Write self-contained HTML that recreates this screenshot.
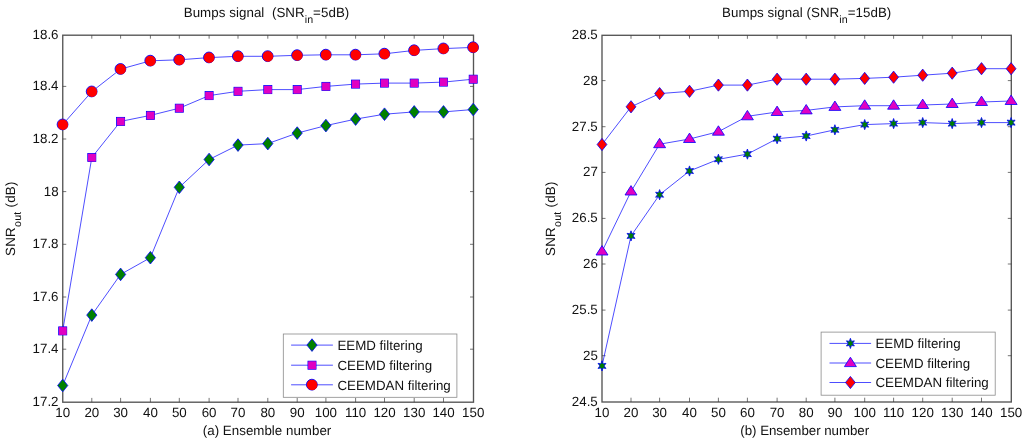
<!DOCTYPE html>
<html><head><meta charset="utf-8"><title>Bumps signal SNR</title>
<style>
html,body{margin:0;padding:0;background:#fff;}
body{width:1024px;height:443px;overflow:hidden;font-family:"Liberation Sans",sans-serif;}
svg{display:block;font-family:"Liberation Sans",sans-serif;fill:#111;filter:blur(0.35px);text-rendering:geometricPrecision;}
</style></head><body>
<svg width="1024" height="443" viewBox="0 0 1024 443">
<rect x="0" y="0" width="1024" height="443" fill="#fff"/>
<rect x="62.75" y="35.20" width="410.75" height="367.00" fill="#fff" stroke="#555" stroke-width="1.35"/>
<text x="58.55" y="406.40" text-anchor="end" font-size="13.33" >17.2</text>
<text x="58.55" y="353.10" text-anchor="end" font-size="13.33" >17.4</text>
<text x="58.55" y="300.90" text-anchor="end" font-size="13.33" >17.6</text>
<text x="58.55" y="248.20" text-anchor="end" font-size="13.33" >17.8</text>
<text x="58.55" y="195.50" text-anchor="end" font-size="13.33" >18</text>
<text x="58.55" y="142.90" text-anchor="end" font-size="13.33" >18.2</text>
<text x="58.55" y="90.30" text-anchor="end" font-size="13.33" >18.4</text>
<text x="58.55" y="39.00" text-anchor="end" font-size="13.33" >18.6</text>
<path d="M91.80 402.20v-4.30M91.80 35.20v3.50M120.60 402.20v-4.30M120.60 35.20v3.50M150.40 402.20v-4.30M150.40 35.20v3.50M179.30 402.20v-4.30M179.30 35.20v3.50M209.10 402.20v-4.30M209.10 35.20v3.50M238.00 402.20v-4.30M238.00 35.20v3.50M267.80 402.20v-4.30M267.80 35.20v3.50M297.20 402.20v-4.30M297.20 35.20v3.50M325.90 402.20v-4.30M325.90 35.20v3.50M355.60 402.20v-4.30M355.60 35.20v3.50M384.50 402.20v-4.30M384.50 35.20v3.50M414.20 402.20v-4.30M414.20 35.20v3.50M443.50 402.20v-4.30M443.50 35.20v3.50M62.75 349.20h3.50M473.50 349.20h-3.50M62.75 297.00h3.50M473.50 297.00h-3.50M62.75 244.30h3.50M473.50 244.30h-3.50M62.75 191.60h3.50M473.50 191.60h-3.50M62.75 139.00h3.50M473.50 139.00h-3.50M62.75 86.40h3.50M473.50 86.40h-3.50" stroke="#3a3a3a" stroke-width="0.7" fill="none"/>
<text x="62.70" y="417.10" text-anchor="middle" font-size="13.33" >10</text>
<text x="91.80" y="417.10" text-anchor="middle" font-size="13.33" >20</text>
<text x="120.60" y="417.10" text-anchor="middle" font-size="13.33" >30</text>
<text x="150.40" y="417.10" text-anchor="middle" font-size="13.33" >40</text>
<text x="179.30" y="417.10" text-anchor="middle" font-size="13.33" >50</text>
<text x="209.10" y="417.10" text-anchor="middle" font-size="13.33" >60</text>
<text x="238.00" y="417.10" text-anchor="middle" font-size="13.33" >70</text>
<text x="267.80" y="417.10" text-anchor="middle" font-size="13.33" >80</text>
<text x="297.20" y="417.10" text-anchor="middle" font-size="13.33" >90</text>
<text x="325.90" y="417.10" text-anchor="middle" font-size="13.33" >100</text>
<text x="355.60" y="417.10" text-anchor="middle" font-size="13.33" >110</text>
<text x="384.50" y="417.10" text-anchor="middle" font-size="13.33" >120</text>
<text x="414.20" y="417.10" text-anchor="middle" font-size="13.33" >130</text>
<text x="443.50" y="417.10" text-anchor="middle" font-size="13.33" >140</text>
<text x="473.20" y="417.10" text-anchor="middle" font-size="13.33" >150</text>
<rect x="602.00" y="35.30" width="409.30" height="366.70" fill="#fff" stroke="#555" stroke-width="1.35"/>
<text x="597.80" y="406.20" text-anchor="end" font-size="13.33" >24.5</text>
<text x="597.80" y="359.60" text-anchor="end" font-size="13.33" >25</text>
<text x="597.80" y="314.00" text-anchor="end" font-size="13.33" >25.5</text>
<text x="597.80" y="267.90" text-anchor="end" font-size="13.33" >26</text>
<text x="597.80" y="222.30" text-anchor="end" font-size="13.33" >26.5</text>
<text x="597.80" y="176.30" text-anchor="end" font-size="13.33" >27</text>
<text x="597.80" y="130.60" text-anchor="end" font-size="13.33" >27.5</text>
<text x="597.80" y="84.50" text-anchor="end" font-size="13.33" >28</text>
<text x="597.80" y="39.10" text-anchor="end" font-size="13.33" >28.5</text>
<path d="M631.00 402.00v-4.30M631.00 35.30v3.50M659.60 402.00v-4.30M659.60 35.30v3.50M689.50 402.00v-4.30M689.50 35.30v3.50M718.40 402.00v-4.30M718.40 35.30v3.50M747.40 402.00v-4.30M747.40 35.30v3.50M777.10 402.00v-4.30M777.10 35.30v3.50M806.20 402.00v-4.30M806.20 35.30v3.50M834.90 402.00v-4.30M834.90 35.30v3.50M864.70 402.00v-4.30M864.70 35.30v3.50M893.60 402.00v-4.30M893.60 35.30v3.50M922.70 402.00v-4.30M922.70 35.30v3.50M952.20 402.00v-4.30M952.20 35.30v3.50M981.50 402.00v-4.30M981.50 35.30v3.50M602.00 355.70h3.50M1011.30 355.70h-3.50M602.00 310.10h3.50M1011.30 310.10h-3.50M602.00 264.00h3.50M1011.30 264.00h-3.50M602.00 218.40h3.50M1011.30 218.40h-3.50M602.00 172.40h3.50M1011.30 172.40h-3.50M602.00 126.70h3.50M1011.30 126.70h-3.50M602.00 80.60h3.50M1011.30 80.60h-3.50" stroke="#3a3a3a" stroke-width="0.7" fill="none"/>
<text x="602.00" y="417.10" text-anchor="middle" font-size="13.33" >10</text>
<text x="631.00" y="417.10" text-anchor="middle" font-size="13.33" >20</text>
<text x="659.60" y="417.10" text-anchor="middle" font-size="13.33" >30</text>
<text x="689.50" y="417.10" text-anchor="middle" font-size="13.33" >40</text>
<text x="718.40" y="417.10" text-anchor="middle" font-size="13.33" >50</text>
<text x="747.40" y="417.10" text-anchor="middle" font-size="13.33" >60</text>
<text x="777.10" y="417.10" text-anchor="middle" font-size="13.33" >70</text>
<text x="806.20" y="417.10" text-anchor="middle" font-size="13.33" >80</text>
<text x="834.90" y="417.10" text-anchor="middle" font-size="13.33" >90</text>
<text x="864.70" y="417.10" text-anchor="middle" font-size="13.33" >100</text>
<text x="893.60" y="417.10" text-anchor="middle" font-size="13.33" >110</text>
<text x="922.70" y="417.10" text-anchor="middle" font-size="13.33" >120</text>
<text x="952.20" y="417.10" text-anchor="middle" font-size="13.33" >130</text>
<text x="981.50" y="417.10" text-anchor="middle" font-size="13.33" >140</text>
<text x="1011.10" y="417.10" text-anchor="middle" font-size="13.33" >150</text>
<polyline fill="none" stroke="#0000ff" stroke-width="0.7" points="62.70,385.50 91.80,315.10 120.60,274.40 150.40,257.70 179.30,187.30 209.10,159.50 238.00,145.10 267.80,143.60 297.20,133.10 325.90,125.60 355.60,119.10 384.50,114.20 414.20,111.90 443.50,111.90 473.20,109.50"/>
<polygon points="62.70,379.20 67.80,385.50 62.70,391.80 57.60,385.50" fill="#008000" stroke="#0000ff" stroke-width="0.8"/>
<polygon points="91.80,308.80 96.90,315.10 91.80,321.40 86.70,315.10" fill="#008000" stroke="#0000ff" stroke-width="0.8"/>
<polygon points="120.60,268.10 125.70,274.40 120.60,280.70 115.50,274.40" fill="#008000" stroke="#0000ff" stroke-width="0.8"/>
<polygon points="150.40,251.40 155.50,257.70 150.40,264.00 145.30,257.70" fill="#008000" stroke="#0000ff" stroke-width="0.8"/>
<polygon points="179.30,181.00 184.40,187.30 179.30,193.60 174.20,187.30" fill="#008000" stroke="#0000ff" stroke-width="0.8"/>
<polygon points="209.10,153.20 214.20,159.50 209.10,165.80 204.00,159.50" fill="#008000" stroke="#0000ff" stroke-width="0.8"/>
<polygon points="238.00,138.80 243.10,145.10 238.00,151.40 232.90,145.10" fill="#008000" stroke="#0000ff" stroke-width="0.8"/>
<polygon points="267.80,137.30 272.90,143.60 267.80,149.90 262.70,143.60" fill="#008000" stroke="#0000ff" stroke-width="0.8"/>
<polygon points="297.20,126.80 302.30,133.10 297.20,139.40 292.10,133.10" fill="#008000" stroke="#0000ff" stroke-width="0.8"/>
<polygon points="325.90,119.30 331.00,125.60 325.90,131.90 320.80,125.60" fill="#008000" stroke="#0000ff" stroke-width="0.8"/>
<polygon points="355.60,112.80 360.70,119.10 355.60,125.40 350.50,119.10" fill="#008000" stroke="#0000ff" stroke-width="0.8"/>
<polygon points="384.50,107.90 389.60,114.20 384.50,120.50 379.40,114.20" fill="#008000" stroke="#0000ff" stroke-width="0.8"/>
<polygon points="414.20,105.60 419.30,111.90 414.20,118.20 409.10,111.90" fill="#008000" stroke="#0000ff" stroke-width="0.8"/>
<polygon points="443.50,105.60 448.60,111.90 443.50,118.20 438.40,111.90" fill="#008000" stroke="#0000ff" stroke-width="0.8"/>
<polygon points="473.20,103.20 478.30,109.50 473.20,115.80 468.10,109.50" fill="#008000" stroke="#0000ff" stroke-width="0.8"/>
<polyline fill="none" stroke="#0000ff" stroke-width="0.7" points="62.70,330.90 91.80,157.50 120.60,121.40 150.40,115.40 179.30,108.20 209.10,95.60 238.00,91.30 267.80,89.60 297.20,89.60 325.90,86.40 355.60,84.10 384.50,83.10 414.20,83.10 443.50,82.10 473.20,79.20"/>
<rect x="58.65" y="326.85" width="8.10" height="8.10" fill="#e000c2" stroke="#0000ff" stroke-width="0.8"/><rect x="59.10" y="327.30" width="7.50" height="7.50" fill="#e000c2"/>
<rect x="87.75" y="153.45" width="8.10" height="8.10" fill="#e000c2" stroke="#0000ff" stroke-width="0.8"/><rect x="88.20" y="153.90" width="7.50" height="7.50" fill="#e000c2"/>
<rect x="116.55" y="117.35" width="8.10" height="8.10" fill="#e000c2" stroke="#0000ff" stroke-width="0.8"/><rect x="117.00" y="117.80" width="7.50" height="7.50" fill="#e000c2"/>
<rect x="146.35" y="111.35" width="8.10" height="8.10" fill="#e000c2" stroke="#0000ff" stroke-width="0.8"/><rect x="146.80" y="111.80" width="7.50" height="7.50" fill="#e000c2"/>
<rect x="175.25" y="104.15" width="8.10" height="8.10" fill="#e000c2" stroke="#0000ff" stroke-width="0.8"/><rect x="175.70" y="104.60" width="7.50" height="7.50" fill="#e000c2"/>
<rect x="205.05" y="91.55" width="8.10" height="8.10" fill="#e000c2" stroke="#0000ff" stroke-width="0.8"/><rect x="205.50" y="92.00" width="7.50" height="7.50" fill="#e000c2"/>
<rect x="233.95" y="87.25" width="8.10" height="8.10" fill="#e000c2" stroke="#0000ff" stroke-width="0.8"/><rect x="234.40" y="87.70" width="7.50" height="7.50" fill="#e000c2"/>
<rect x="263.75" y="85.55" width="8.10" height="8.10" fill="#e000c2" stroke="#0000ff" stroke-width="0.8"/><rect x="264.20" y="86.00" width="7.50" height="7.50" fill="#e000c2"/>
<rect x="293.15" y="85.55" width="8.10" height="8.10" fill="#e000c2" stroke="#0000ff" stroke-width="0.8"/><rect x="293.60" y="86.00" width="7.50" height="7.50" fill="#e000c2"/>
<rect x="321.85" y="82.35" width="8.10" height="8.10" fill="#e000c2" stroke="#0000ff" stroke-width="0.8"/><rect x="322.30" y="82.80" width="7.50" height="7.50" fill="#e000c2"/>
<rect x="351.55" y="80.05" width="8.10" height="8.10" fill="#e000c2" stroke="#0000ff" stroke-width="0.8"/><rect x="352.00" y="80.50" width="7.50" height="7.50" fill="#e000c2"/>
<rect x="380.45" y="79.05" width="8.10" height="8.10" fill="#e000c2" stroke="#0000ff" stroke-width="0.8"/><rect x="380.90" y="79.50" width="7.50" height="7.50" fill="#e000c2"/>
<rect x="410.15" y="79.05" width="8.10" height="8.10" fill="#e000c2" stroke="#0000ff" stroke-width="0.8"/><rect x="410.60" y="79.50" width="7.50" height="7.50" fill="#e000c2"/>
<rect x="439.45" y="78.05" width="8.10" height="8.10" fill="#e000c2" stroke="#0000ff" stroke-width="0.8"/><rect x="439.90" y="78.50" width="7.50" height="7.50" fill="#e000c2"/>
<rect x="469.15" y="75.15" width="8.10" height="8.10" fill="#e000c2" stroke="#0000ff" stroke-width="0.8"/><rect x="469.60" y="75.60" width="7.50" height="7.50" fill="#e000c2"/>
<polyline fill="none" stroke="#0000ff" stroke-width="0.7" points="62.70,124.60 91.80,91.60 120.60,69.10 150.40,60.80 179.30,59.80 209.10,57.60 238.00,56.30 267.80,56.30 297.20,55.30 325.90,54.80 355.60,54.80 384.50,53.80 414.20,50.40 443.50,48.60 473.20,47.40"/>
<circle cx="62.55" cy="124.45" r="5.40" fill="#ff0000" stroke="#0000ff" stroke-width="0.9"/><circle cx="62.95" cy="124.85" r="5.10" fill="#ff0000"/>
<circle cx="91.65" cy="91.45" r="5.40" fill="#ff0000" stroke="#0000ff" stroke-width="0.9"/><circle cx="92.05" cy="91.85" r="5.10" fill="#ff0000"/>
<circle cx="120.45" cy="68.95" r="5.40" fill="#ff0000" stroke="#0000ff" stroke-width="0.9"/><circle cx="120.85" cy="69.35" r="5.10" fill="#ff0000"/>
<circle cx="150.25" cy="60.65" r="5.40" fill="#ff0000" stroke="#0000ff" stroke-width="0.9"/><circle cx="150.65" cy="61.05" r="5.10" fill="#ff0000"/>
<circle cx="179.15" cy="59.65" r="5.40" fill="#ff0000" stroke="#0000ff" stroke-width="0.9"/><circle cx="179.55" cy="60.05" r="5.10" fill="#ff0000"/>
<circle cx="208.95" cy="57.45" r="5.40" fill="#ff0000" stroke="#0000ff" stroke-width="0.9"/><circle cx="209.35" cy="57.85" r="5.10" fill="#ff0000"/>
<circle cx="237.85" cy="56.15" r="5.40" fill="#ff0000" stroke="#0000ff" stroke-width="0.9"/><circle cx="238.25" cy="56.55" r="5.10" fill="#ff0000"/>
<circle cx="267.65" cy="56.15" r="5.40" fill="#ff0000" stroke="#0000ff" stroke-width="0.9"/><circle cx="268.05" cy="56.55" r="5.10" fill="#ff0000"/>
<circle cx="297.05" cy="55.15" r="5.40" fill="#ff0000" stroke="#0000ff" stroke-width="0.9"/><circle cx="297.45" cy="55.55" r="5.10" fill="#ff0000"/>
<circle cx="325.75" cy="54.65" r="5.40" fill="#ff0000" stroke="#0000ff" stroke-width="0.9"/><circle cx="326.15" cy="55.05" r="5.10" fill="#ff0000"/>
<circle cx="355.45" cy="54.65" r="5.40" fill="#ff0000" stroke="#0000ff" stroke-width="0.9"/><circle cx="355.85" cy="55.05" r="5.10" fill="#ff0000"/>
<circle cx="384.35" cy="53.65" r="5.40" fill="#ff0000" stroke="#0000ff" stroke-width="0.9"/><circle cx="384.75" cy="54.05" r="5.10" fill="#ff0000"/>
<circle cx="414.05" cy="50.25" r="5.40" fill="#ff0000" stroke="#0000ff" stroke-width="0.9"/><circle cx="414.45" cy="50.65" r="5.10" fill="#ff0000"/>
<circle cx="443.35" cy="48.45" r="5.40" fill="#ff0000" stroke="#0000ff" stroke-width="0.9"/><circle cx="443.75" cy="48.85" r="5.10" fill="#ff0000"/>
<circle cx="473.05" cy="47.25" r="5.40" fill="#ff0000" stroke="#0000ff" stroke-width="0.9"/><circle cx="473.45" cy="47.65" r="5.10" fill="#ff0000"/>
<polyline fill="none" stroke="#0000ff" stroke-width="0.7" points="602.00,365.90 631.00,235.90 659.60,194.70 689.50,171.00 718.40,159.30 747.40,154.10 777.10,138.70 806.20,136.00 834.90,129.80 864.70,124.60 893.60,123.60 922.70,122.60 952.20,123.60 981.50,122.60 1011.10,122.60"/>
<polygon points="602.00,360.80 603.08,363.82 605.98,363.35 604.16,365.90 605.98,368.45 603.08,367.98 602.00,371.00 600.92,367.98 598.02,368.45 599.84,365.90 598.02,363.35 600.92,363.82" fill="#008000" stroke="#0000ff" stroke-width="0.8"/>
<polygon points="631.00,230.80 632.08,233.82 634.98,233.35 633.16,235.90 634.98,238.45 632.08,237.98 631.00,241.00 629.92,237.98 627.02,238.45 628.84,235.90 627.02,233.35 629.92,233.82" fill="#008000" stroke="#0000ff" stroke-width="0.8"/>
<polygon points="659.60,189.60 660.68,192.62 663.58,192.15 661.76,194.70 663.58,197.25 660.68,196.78 659.60,199.80 658.52,196.78 655.62,197.25 657.44,194.70 655.62,192.15 658.52,192.62" fill="#008000" stroke="#0000ff" stroke-width="0.8"/>
<polygon points="689.50,165.90 690.58,168.92 693.48,168.45 691.66,171.00 693.48,173.55 690.58,173.08 689.50,176.10 688.42,173.08 685.52,173.55 687.34,171.00 685.52,168.45 688.42,168.92" fill="#008000" stroke="#0000ff" stroke-width="0.8"/>
<polygon points="718.40,154.20 719.48,157.22 722.38,156.75 720.56,159.30 722.38,161.85 719.48,161.38 718.40,164.40 717.32,161.38 714.42,161.85 716.24,159.30 714.42,156.75 717.32,157.22" fill="#008000" stroke="#0000ff" stroke-width="0.8"/>
<polygon points="747.40,149.00 748.48,152.02 751.38,151.55 749.56,154.10 751.38,156.65 748.48,156.18 747.40,159.20 746.32,156.18 743.42,156.65 745.24,154.10 743.42,151.55 746.32,152.02" fill="#008000" stroke="#0000ff" stroke-width="0.8"/>
<polygon points="777.10,133.60 778.18,136.62 781.08,136.15 779.26,138.70 781.08,141.25 778.18,140.78 777.10,143.80 776.02,140.78 773.12,141.25 774.94,138.70 773.12,136.15 776.02,136.62" fill="#008000" stroke="#0000ff" stroke-width="0.8"/>
<polygon points="806.20,130.90 807.28,133.92 810.18,133.45 808.36,136.00 810.18,138.55 807.28,138.08 806.20,141.10 805.12,138.08 802.22,138.55 804.04,136.00 802.22,133.45 805.12,133.92" fill="#008000" stroke="#0000ff" stroke-width="0.8"/>
<polygon points="834.90,124.70 835.98,127.72 838.88,127.25 837.06,129.80 838.88,132.35 835.98,131.88 834.90,134.90 833.82,131.88 830.92,132.35 832.74,129.80 830.92,127.25 833.82,127.72" fill="#008000" stroke="#0000ff" stroke-width="0.8"/>
<polygon points="864.70,119.50 865.78,122.52 868.68,122.05 866.86,124.60 868.68,127.15 865.78,126.68 864.70,129.70 863.62,126.68 860.72,127.15 862.54,124.60 860.72,122.05 863.62,122.52" fill="#008000" stroke="#0000ff" stroke-width="0.8"/>
<polygon points="893.60,118.50 894.68,121.52 897.58,121.05 895.76,123.60 897.58,126.15 894.68,125.68 893.60,128.70 892.52,125.68 889.62,126.15 891.44,123.60 889.62,121.05 892.52,121.52" fill="#008000" stroke="#0000ff" stroke-width="0.8"/>
<polygon points="922.70,117.50 923.78,120.52 926.68,120.05 924.86,122.60 926.68,125.15 923.78,124.68 922.70,127.70 921.62,124.68 918.72,125.15 920.54,122.60 918.72,120.05 921.62,120.52" fill="#008000" stroke="#0000ff" stroke-width="0.8"/>
<polygon points="952.20,118.50 953.28,121.52 956.18,121.05 954.36,123.60 956.18,126.15 953.28,125.68 952.20,128.70 951.12,125.68 948.22,126.15 950.04,123.60 948.22,121.05 951.12,121.52" fill="#008000" stroke="#0000ff" stroke-width="0.8"/>
<polygon points="981.50,117.50 982.58,120.52 985.48,120.05 983.66,122.60 985.48,125.15 982.58,124.68 981.50,127.70 980.42,124.68 977.52,125.15 979.34,122.60 977.52,120.05 980.42,120.52" fill="#008000" stroke="#0000ff" stroke-width="0.8"/>
<polygon points="1011.10,117.50 1012.18,120.52 1015.08,120.05 1013.26,122.60 1015.08,125.15 1012.18,124.68 1011.10,127.70 1010.02,124.68 1007.12,125.15 1008.94,122.60 1007.12,120.05 1010.02,120.52" fill="#008000" stroke="#0000ff" stroke-width="0.8"/>
<polyline fill="none" stroke="#0000ff" stroke-width="0.7" points="602.00,251.50 631.00,191.50 659.60,144.20 689.50,139.00 718.40,131.70 747.40,116.30 777.10,112.00 806.20,110.40 834.90,106.90 864.70,105.70 893.60,105.70 922.70,105.00 952.20,104.00 981.50,102.00 1011.10,101.00"/>
<polygon points="602.00,245.60 608.00,255.00 596.00,255.00" fill="#e000c2" stroke="#0000ff" stroke-width="0.8"/>
<polygon points="631.00,185.60 637.00,195.00 625.00,195.00" fill="#e000c2" stroke="#0000ff" stroke-width="0.8"/>
<polygon points="659.60,138.30 665.60,147.70 653.60,147.70" fill="#e000c2" stroke="#0000ff" stroke-width="0.8"/>
<polygon points="689.50,133.10 695.50,142.50 683.50,142.50" fill="#e000c2" stroke="#0000ff" stroke-width="0.8"/>
<polygon points="718.40,125.80 724.40,135.20 712.40,135.20" fill="#e000c2" stroke="#0000ff" stroke-width="0.8"/>
<polygon points="747.40,110.40 753.40,119.80 741.40,119.80" fill="#e000c2" stroke="#0000ff" stroke-width="0.8"/>
<polygon points="777.10,106.10 783.10,115.50 771.10,115.50" fill="#e000c2" stroke="#0000ff" stroke-width="0.8"/>
<polygon points="806.20,104.50 812.20,113.90 800.20,113.90" fill="#e000c2" stroke="#0000ff" stroke-width="0.8"/>
<polygon points="834.90,101.00 840.90,110.40 828.90,110.40" fill="#e000c2" stroke="#0000ff" stroke-width="0.8"/>
<polygon points="864.70,99.80 870.70,109.20 858.70,109.20" fill="#e000c2" stroke="#0000ff" stroke-width="0.8"/>
<polygon points="893.60,99.80 899.60,109.20 887.60,109.20" fill="#e000c2" stroke="#0000ff" stroke-width="0.8"/>
<polygon points="922.70,99.10 928.70,108.50 916.70,108.50" fill="#e000c2" stroke="#0000ff" stroke-width="0.8"/>
<polygon points="952.20,98.10 958.20,107.50 946.20,107.50" fill="#e000c2" stroke="#0000ff" stroke-width="0.8"/>
<polygon points="981.50,96.10 987.50,105.50 975.50,105.50" fill="#e000c2" stroke="#0000ff" stroke-width="0.8"/>
<polygon points="1011.10,95.10 1017.10,104.50 1005.10,104.50" fill="#e000c2" stroke="#0000ff" stroke-width="0.8"/>
<polyline fill="none" stroke="#0000ff" stroke-width="0.7" points="602.00,144.50 631.00,106.80 659.60,93.60 689.50,91.30 718.40,85.10 747.40,85.10 777.10,79.20 806.20,79.20 834.90,79.20 864.70,78.40 893.60,77.20 922.70,75.20 952.20,73.20 981.50,68.70 1011.10,68.70"/>
<polygon points="602.00,138.40 606.90,144.50 602.00,150.60 597.10,144.50" fill="#ff0000" stroke="#0000ff" stroke-width="0.8"/>
<polygon points="631.00,100.70 635.90,106.80 631.00,112.90 626.10,106.80" fill="#ff0000" stroke="#0000ff" stroke-width="0.8"/>
<polygon points="659.60,87.50 664.50,93.60 659.60,99.70 654.70,93.60" fill="#ff0000" stroke="#0000ff" stroke-width="0.8"/>
<polygon points="689.50,85.20 694.40,91.30 689.50,97.40 684.60,91.30" fill="#ff0000" stroke="#0000ff" stroke-width="0.8"/>
<polygon points="718.40,79.00 723.30,85.10 718.40,91.20 713.50,85.10" fill="#ff0000" stroke="#0000ff" stroke-width="0.8"/>
<polygon points="747.40,79.00 752.30,85.10 747.40,91.20 742.50,85.10" fill="#ff0000" stroke="#0000ff" stroke-width="0.8"/>
<polygon points="777.10,73.10 782.00,79.20 777.10,85.30 772.20,79.20" fill="#ff0000" stroke="#0000ff" stroke-width="0.8"/>
<polygon points="806.20,73.10 811.10,79.20 806.20,85.30 801.30,79.20" fill="#ff0000" stroke="#0000ff" stroke-width="0.8"/>
<polygon points="834.90,73.10 839.80,79.20 834.90,85.30 830.00,79.20" fill="#ff0000" stroke="#0000ff" stroke-width="0.8"/>
<polygon points="864.70,72.30 869.60,78.40 864.70,84.50 859.80,78.40" fill="#ff0000" stroke="#0000ff" stroke-width="0.8"/>
<polygon points="893.60,71.10 898.50,77.20 893.60,83.30 888.70,77.20" fill="#ff0000" stroke="#0000ff" stroke-width="0.8"/>
<polygon points="922.70,69.10 927.60,75.20 922.70,81.30 917.80,75.20" fill="#ff0000" stroke="#0000ff" stroke-width="0.8"/>
<polygon points="952.20,67.10 957.10,73.20 952.20,79.30 947.30,73.20" fill="#ff0000" stroke="#0000ff" stroke-width="0.8"/>
<polygon points="981.50,62.60 986.40,68.70 981.50,74.80 976.60,68.70" fill="#ff0000" stroke="#0000ff" stroke-width="0.8"/>
<polygon points="1011.10,62.60 1016.00,68.70 1011.10,74.80 1006.20,68.70" fill="#ff0000" stroke="#0000ff" stroke-width="0.8"/>
<rect x="283.30" y="334.00" width="173.60" height="63.30" fill="#fff" stroke="#8a8a8a" stroke-width="0.8"/>
<line x1="291.10" y1="345.10" x2="332.90" y2="345.10" stroke="#0000ff" stroke-width="0.7"/>
<polygon points="312.00,338.80 317.10,345.10 312.00,351.40 306.90,345.10" fill="#008000" stroke="#0000ff" stroke-width="0.8"/>
<text x="337.40" y="349.80" text-anchor="start" font-size="13.33" >EEMD filtering</text>
<line x1="291.10" y1="365.20" x2="332.90" y2="365.20" stroke="#0000ff" stroke-width="0.7"/>
<rect x="307.95" y="361.15" width="8.10" height="8.10" fill="#e000c2" stroke="#0000ff" stroke-width="0.8"/><rect x="308.40" y="361.60" width="7.50" height="7.50" fill="#e000c2"/>
<text x="337.40" y="369.90" text-anchor="start" font-size="13.33" >CEEMD filtering</text>
<line x1="291.10" y1="384.80" x2="332.90" y2="384.80" stroke="#0000ff" stroke-width="0.7"/>
<circle cx="311.85" cy="384.65" r="5.40" fill="#ff0000" stroke="#0000ff" stroke-width="0.9"/><circle cx="312.25" cy="385.05" r="5.10" fill="#ff0000"/>
<text x="337.40" y="389.50" text-anchor="start" font-size="13.33" >CEEMDAN filtering</text>
<rect x="821.10" y="332.10" width="174.10" height="63.10" fill="#fff" stroke="#8a8a8a" stroke-width="0.8"/>
<line x1="829.50" y1="343.40" x2="871.10" y2="343.40" stroke="#0000ff" stroke-width="0.7"/>
<polygon points="850.40,338.30 851.48,341.32 854.38,340.85 852.56,343.40 854.38,345.95 851.48,345.48 850.40,348.50 849.32,345.48 846.42,345.95 848.24,343.40 846.42,340.85 849.32,341.32" fill="#008000" stroke="#0000ff" stroke-width="0.8"/>
<text x="875.40" y="348.10" text-anchor="start" font-size="13.33" >EEMD filtering</text>
<line x1="829.50" y1="363.00" x2="871.10" y2="363.00" stroke="#0000ff" stroke-width="0.7"/>
<polygon points="850.40,357.20 856.40,366.60 844.40,366.60" fill="#e000c2" stroke="#0000ff" stroke-width="0.8"/>
<text x="875.40" y="367.70" text-anchor="start" font-size="13.33" >CEEMD filtering</text>
<line x1="829.50" y1="382.50" x2="871.10" y2="382.50" stroke="#0000ff" stroke-width="0.7"/>
<polygon points="850.40,376.40 855.30,382.50 850.40,388.60 845.50,382.50" fill="#ff0000" stroke="#0000ff" stroke-width="0.8"/>
<text x="875.40" y="387.20" text-anchor="start" font-size="13.33" >CEEMDAN filtering</text>
<text x="183.7" y="17.2" font-size="13.33" textLength="165.6" lengthAdjust="spacing" xml:space="preserve">Bumps signal  (SNR<tspan font-size="10.67" dy="5.6">in</tspan><tspan dy="-5.6">=5dB)</tspan></text>
<text x="722.1" y="17.2" font-size="13.33" textLength="169.2" lengthAdjust="spacing" xml:space="preserve">Bumps signal (SNR<tspan font-size="10.67" dy="5.6">in</tspan><tspan dy="-5.6">=15dB)</tspan></text>
<text x="202.8" y="435.4" font-size="13.33" textLength="128.5" lengthAdjust="spacing">(a) Ensemble number</text>
<text x="740.3" y="435.4" font-size="13.33" textLength="128.9" lengthAdjust="spacing">(b) Ensember number</text>
<text transform="translate(14.60,255.9) rotate(-90)" font-size="13.33" textLength="74.3" lengthAdjust="spacing">SNR<tspan font-size="10.67" dy="6.3">out</tspan><tspan dy="-6.3"> (dB)</tspan></text>
<text transform="translate(554.70,255.9) rotate(-90)" font-size="13.33" textLength="74.3" lengthAdjust="spacing">SNR<tspan font-size="10.67" dy="6.3">out</tspan><tspan dy="-6.3"> (dB)</tspan></text>
</svg>
</body></html>
